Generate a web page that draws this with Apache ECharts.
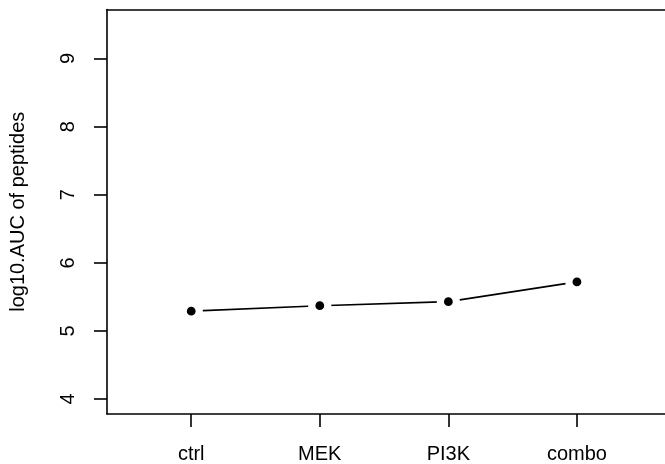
<!DOCTYPE html>
<html>
<head>
<meta charset="utf-8">
<script src="https://cdn.jsdelivr.net/npm/echarts@6/dist/echarts.min.js"></script>
<style>html,body{margin:0;padding:0;background:#fff;}#c{width:665px;height:464px;}</style>
</head>
<body>
<div id="c"></div>
<script>
var categories = ['ctrl', 'MEK', 'PI3K', 'combo'];
var values = [5.29, 5.37, 5.43, 5.72];
var yTicks = [4, 5, 6, 7, 8, 9];
var yTitle = 'log10.AUC of peptides';

var xPositions = categories.map(function (c, i) { return i + 1; });
var seriesData = categories.map(function (c, i) { return [i + 1, values[i]]; });

var chart = echarts.init(document.getElementById('c'), null, {renderer: 'canvas'});
var font = 'Liberation Sans, Arial, Helvetica, sans-serif';
var lw = 1.6;
chart.setOption({
  animation: false,
  backgroundColor: '#fff',
  grid: {left: 103.5, top: 9.5, right: 0, height: 405, show: false},
  xAxis: [{
    type: 'value', min: 0.345, max: 4.685, position: 'bottom',
    splitLine: {show: false},
    axisLine: {show: true, onZero: false, lineStyle: {color: '#000', width: lw}},
    axisTick: {show: true, length: 13, lineStyle: {color: '#000', width: lw}, customValues: xPositions},
    axisLabel: {
      show: true, margin: 30, color: '#000', fontSize: 20, fontFamily: font,
      customValues: xPositions,
      formatter: function (v) { return categories[Math.round(v) - 1] || ''; }
    }
  }, {
    type: 'value', min: 0.345, max: 4.685, position: 'top',
    splitLine: {show: false},
    axisLine: {show: true, onZero: false, lineStyle: {color: '#000', width: lw}},
    axisTick: {show: false},
    axisLabel: {show: false}
  }],
  yAxis: {
    type: 'value', min: 3.78, max: 9.72,
    name: yTitle, nameLocation: 'middle', nameGap: 79, nameRotate: 90,
    nameTextStyle: {color: '#000', fontSize: 20, fontFamily: font},
    splitLine: {show: false},
    axisLine: {show: true, onZero: false, lineStyle: {color: '#000', width: lw}},
    axisTick: {show: true, length: 13, lineStyle: {color: '#000', width: lw}, customValues: yTicks},
    axisLabel: {
      show: true, rotate: 90, margin: 29, color: '#000', fontSize: 20, fontFamily: font,
      customValues: yTicks
    }
  },
  series: [{
    type: 'line',
    xAxisIndex: 0,
    data: seriesData,
    symbol: 'circle',
    symbolSize: 16,
    lineStyle: {color: '#000', width: lw},
    itemStyle: {color: '#000', borderColor: '#fff', borderWidth: 7.2},
    emphasis: {disabled: true},
    silent: true
  }]
});
</script>
</body>
</html>
